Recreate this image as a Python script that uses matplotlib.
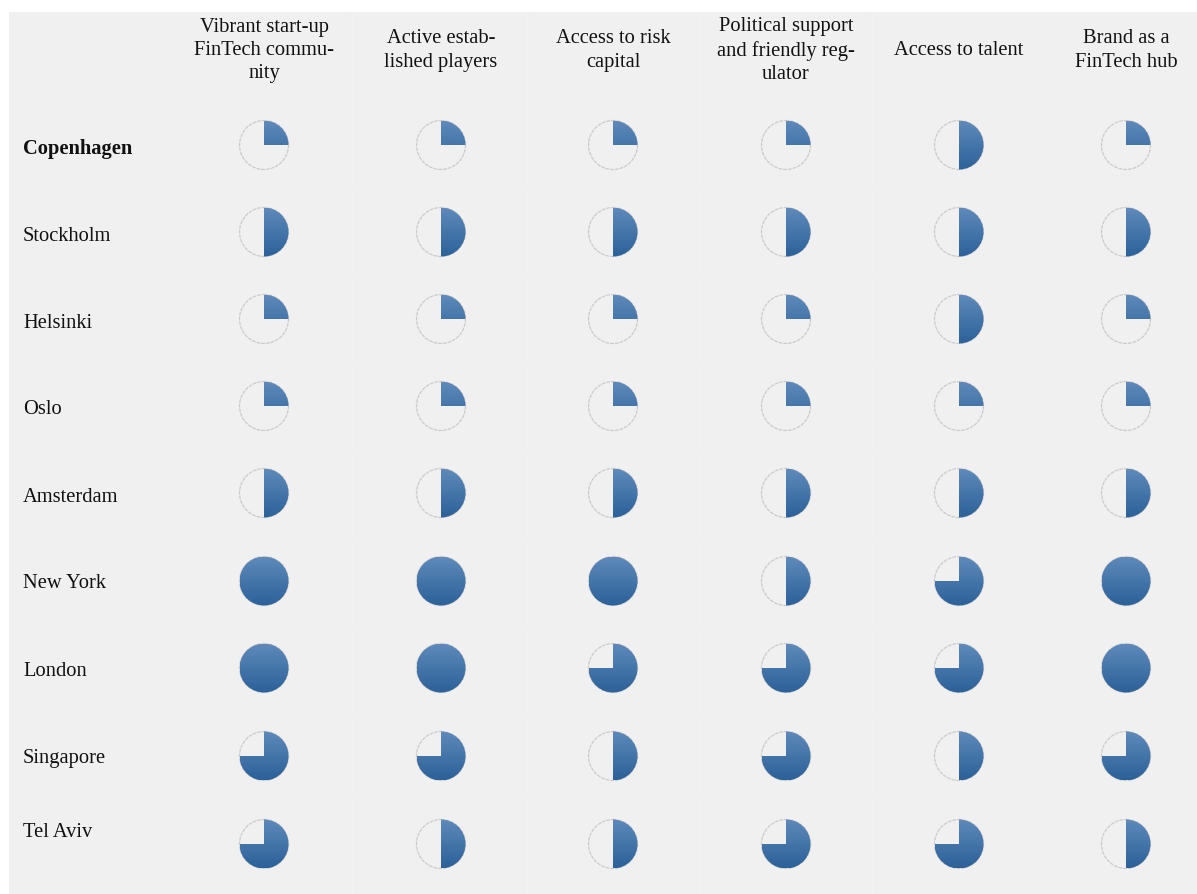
import numpy as np
import matplotlib
matplotlib.use("Agg")
import matplotlib.pyplot as plt
from matplotlib.patches import Wedge, Circle, Rectangle

# Criteria (column headers) and cities (rows)
criteria = [
    "Vibrant start-up\nFinTech commu-\nnity",
    "Active estab-\nlished players",
    "Access to risk\ncapital",
    "Political support\nand friendly reg-\nulator",
    "Access to talent",
    "Brand as a\nFinTech hub",
]
cities = ["Copenhagen", "Stockholm", "Helsinki", "Oslo", "Amsterdam",
          "New York", "London", "Singapore", "Tel Aviv"]

# Scores in quarters (0-4) per city, one value per criterion
copenhagen = [1, 1, 1, 1, 2, 1]
stockholm = [2, 2, 2, 2, 2, 2]
helsinki = [1, 1, 1, 1, 2, 1]
oslo = [1, 1, 1, 1, 1, 1]
amsterdam = [2, 2, 2, 2, 2, 2]
new_york = [4, 4, 4, 2, 3, 4]
london = [4, 4, 3, 3, 3, 4]
singapore = [3, 3, 2, 3, 2, 3]
tel_aviv = [3, 2, 2, 3, 3, 2]
scores = [copenhagen, stockholm, helsinki, oslo, amsterdam,
          new_york, london, singapore, tel_aviv]

W, H = 1197, 895
fig = plt.figure(figsize=(W / 100, H / 100), dpi=100)
fig.patch.set_facecolor("white")
ax = fig.add_axes([0, 0, 1, 1])
ax.set_xlim(0, W)
ax.set_ylim(H, 0)
ax.set_aspect("equal")
ax.axis("off")

# Panel background
ax.add_patch(Rectangle((9, 13), W - 9, H - 13, facecolor="#f0f0f0",
                       edgecolor="none", zorder=0))

col_x = [264, 441, 613, 786, 959, 1126]
row_y = [146, 233, 320, 407, 494, 582, 669, 757, 845]
label_y = [149, 236, 323, 410, 497, 583, 671, 759, 833]
radius = 24.5

# faint cell separators
for xb in [174, 352, 527, 700, 872, 1042]:
    ax.plot([xb, xb], [13, H], color="#f2f2f2", lw=1, zorder=0.5)
for yb in [190, 277, 364, 451, 538, 625, 713, 800]:
    ax.plot([9, W], [yb, yb], color="#f2f2f2", lw=1, zorder=0.5)

serif = ["Liberation Serif", "DejaVu Serif"]
for x, name in zip(col_x, criteria):
    ax.text(x, 50.5, name, ha="center", va="center", fontsize=14.8,
            family=serif, linespacing=1.3, color="#111111")

for i, (y, name) in enumerate(zip(label_y, cities)):
    ax.text(23, y, name, ha="left", va="center", fontsize=14.8,
            family=serif, color="#111111",
            fontweight="bold" if i == 0 else "normal")

# vertical gradient for the filled part of each ball
grad = np.linspace(0, 1, 64)[:, None]
top = np.array([0.37, 0.54, 0.73])
bottom = np.array([0.17, 0.38, 0.60])
img = top[None, None, :] * (1 - grad[..., None]) + bottom[None, None, :] * grad[..., None]
img = np.repeat(img, 2, axis=1)

for r, y in enumerate(row_y):
    for c, x in enumerate(col_x):
        v = scores[r][c]
        ax.add_patch(Circle((x, y), radius, facecolor="none",
                            edgecolor="#cbcbcb", lw=0.9, ls=(0, (3, 0.8)),
                            zorder=2))
        if v <= 0:
            continue
        # y grows downward, so the filled sector runs from 12 o'clock clockwise
        if v >= 4:
            clip = Circle((x, y), radius, transform=ax.transData)
        else:
            clip = Wedge((x, y), radius, -90, -90 + 90 * v,
                         transform=ax.transData)
        im = ax.imshow(img, extent=(x - radius, x + radius, y + radius, y - radius),
                       origin="upper", interpolation="bilinear", zorder=3)
        im.set_clip_path(clip)

ax.set_xlim(0, W)
ax.set_ylim(H, 0)
fig.savefig("out.png", dpi=100, facecolor="white")
